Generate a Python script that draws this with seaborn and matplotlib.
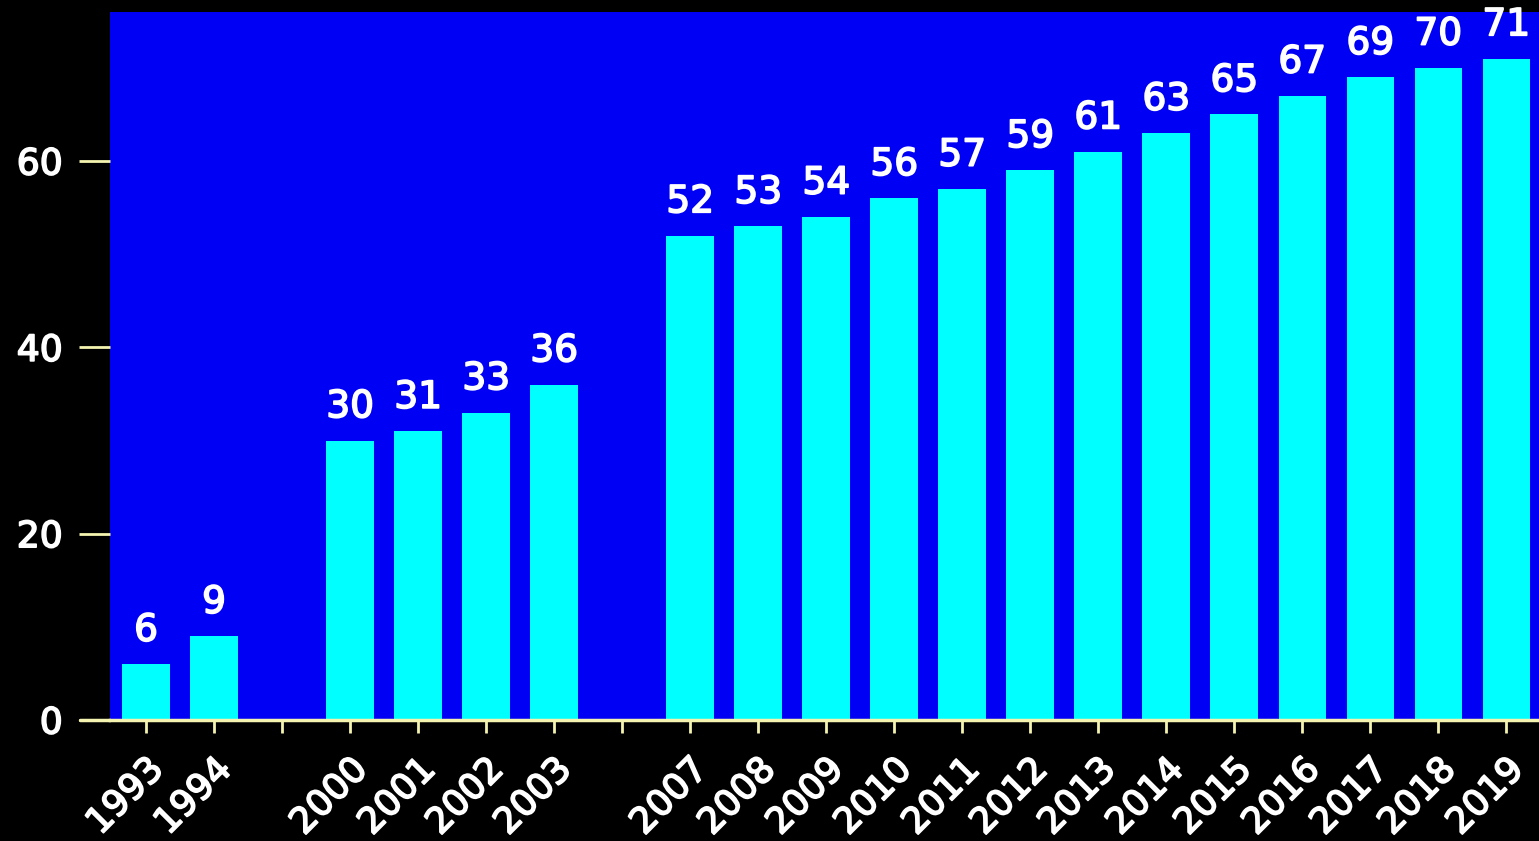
import matplotlib
matplotlib.use("Agg")
import matplotlib.pyplot as plt
import matplotlib.patheffects as pe
import seaborn as sns
import pandas as pd

years = ["1993", "1994", "2000", "2001", "2002", "2003", "2007", "2008", "2009",
         "2010", "2011", "2012", "2013", "2014", "2015", "2016", "2017", "2018", "2019"]
values = [6, 9, 30, 31, 33, 36, 52, 53, 54, 56, 57, 59, 61, 63, 65, 67, 69, 70, 71]
slot_order = ["1993", "1994", "gap1", "2000", "2001", "2002", "2003", "gap2",
              "2007", "2008", "2009", "2010", "2011", "2012", "2013", "2014",
              "2015", "2016", "2017", "2018", "2019"]
y_ticks = [0, 20, 40, 60]

df = pd.DataFrame({"year": years, "value": values})

sns.set_style("white")
plt.rcParams["font.family"] = ["DejaVu Sans"]

fig = plt.figure(figsize=(15.39, 8.41), dpi=100, facecolor="black")
ax = fig.add_axes([110 / 1539, 1 - 720 / 841, 1 - 110 / 1539, (720 - 12) / 841])
ax.set_facecolor("#0000F5")

sns.barplot(data=df, x="year", y="value", order=slot_order, color="#00FFFF",
            saturation=1, width=0.7, ax=ax, edgecolor="none")

thick = [pe.withStroke(linewidth=1.2, foreground="white")]
for c in ax.containers:
    texts = ax.bar_label(c, labels=[f"{int(v)}" for v in c.datavalues], padding=11,
                         color="white", fontsize=27)
    for t in texts:
        t.set_path_effects(thick)

ax.set_xlim(-0.53, len(slot_order) - 0.52)
ax.set_ylim(0, 76)
ax.set_yticks(y_ticks)
ax.set_xticks(range(len(slot_order)))
ax.set_xticklabels(["" if s.startswith("gap") else s for s in slot_order],
                   rotation=45, ha="right", rotation_mode="anchor")
ax.set_xlabel("")
ax.set_ylabel("")

tick_col = "#F4F4B0"
ax.tick_params(axis="y", length=22, width=2, color=tick_col, pad=12,
               labelcolor="white", labelsize=26, left=True, direction="out")
ax.tick_params(axis="x", length=9, width=2, color=tick_col, pad=14,
               labelcolor="white", labelsize=26, bottom=True, direction="out")
for lab in ax.get_xticklabels() + ax.get_yticklabels():
    lab.set_path_effects(thick)

for s in ["top", "right", "left"]:
    ax.spines[s].set_visible(False)
ax.spines["bottom"].set_color(tick_col)
ax.spines["bottom"].set_linewidth(2.5)
ax.plot([-30 / (1539 - 110), 0], [0, 0], transform=ax.transAxes, clip_on=False,
        color=tick_col, lw=2.5)

fig.savefig("out.png", dpi=100, facecolor="black")
